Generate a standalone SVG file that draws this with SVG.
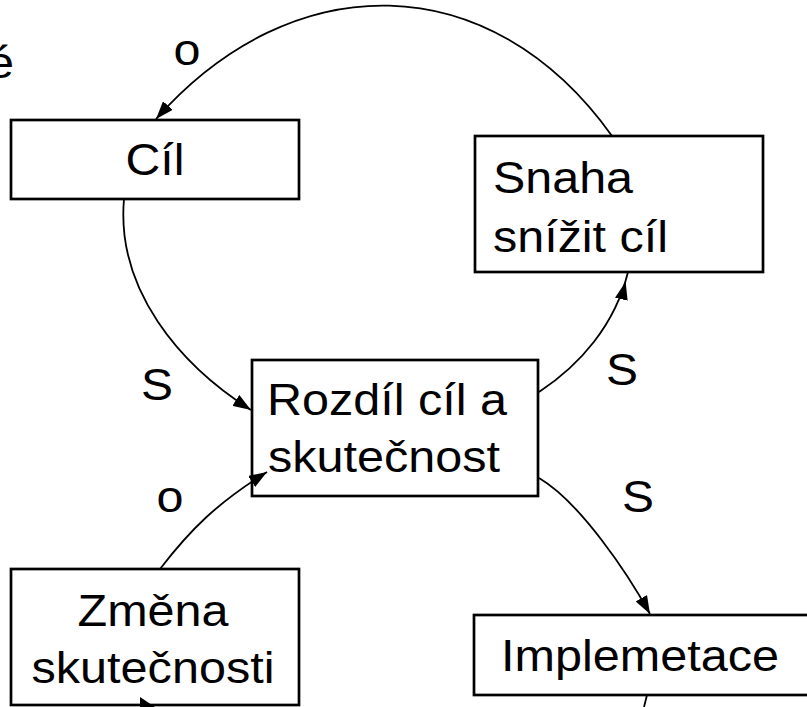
<svg xmlns="http://www.w3.org/2000/svg" width="807" height="707" viewBox="0 0 807 707">
<style>
.box{fill:#fff;stroke:#000;stroke-width:2.7}
.t{font-family:"Liberation Sans",Arial,sans-serif;font-size:44px;fill:#000}
.c{text-anchor:middle}
.con{fill:none;stroke:#000;stroke-width:1.8}
</style>
<defs>
<marker id="ah" viewBox="0 0 18 13" refX="18" refY="6.5" markerWidth="18" markerHeight="13" markerUnits="userSpaceOnUse" orient="auto">
<path d="M0,0 L18,6.5 L0,13 Z" fill="#000"/>
</marker>
<marker id="ahOff" viewBox="0 0 28 13" refX="28" refY="6.5" markerWidth="28" markerHeight="13" markerUnits="userSpaceOnUse" orient="auto">
<path d="M0,0 L18,6.5 L0,13 Z" fill="#000"/>
</marker>
</defs>
<rect width="807" height="707" fill="#fff"/>
<text class="t" x="-13" y="78" textLength="27" lengthAdjust="spacingAndGlyphs">é</text>
<g id="node-cil">
<rect class="box" x="11" y="120" width="288" height="79"/>
<text class="t c" x="155" y="175" textLength="59" lengthAdjust="spacingAndGlyphs">Cíl</text>
</g>
<g id="node-snaha">
<rect class="box" x="475" y="136" width="288" height="136"/>
<text class="t" x="493" y="193" textLength="140" lengthAdjust="spacingAndGlyphs">Snaha</text>
<text class="t" x="493" y="252" textLength="175" lengthAdjust="spacingAndGlyphs">snížit cíl</text>
</g>
<g id="node-rozdil">
<rect class="box" x="252" y="360" width="286" height="136"/>
<text class="t" x="267" y="415" textLength="240" lengthAdjust="spacingAndGlyphs">Rozdíl cíl a</text>
<text class="t" x="268" y="472" textLength="232" lengthAdjust="spacingAndGlyphs">skutečnost</text>
</g>
<g id="node-zmena">
<rect class="box" x="11" y="569" width="288" height="136"/>
<text class="t c" x="153" y="626" textLength="151" lengthAdjust="spacingAndGlyphs">Změna</text>
<text class="t c" x="153" y="683" textLength="243" lengthAdjust="spacingAndGlyphs">skutečnosti</text>
</g>
<g id="node-implemetace">
<rect class="box" x="474" y="615" width="360" height="80"/>
<text class="t c" x="640" y="671" textLength="278" lengthAdjust="spacingAndGlyphs">Implemetace</text>
</g>
<g id="connectors">
<path class="con" d="M612,136 C490,-35 292,-35 156,119" marker-end="url(#ah)"/>
<path class="con" d="M124,199 C116,290 180,365 251,410" marker-end="url(#ah)"/>
<path class="con" d="M160,569 C190,530 217,503 267,472" marker-end="url(#ah)"/>
<path class="con" d="M539,392 C580,365 615,325 628,272" marker-end="url(#ahOff)"/>
<path class="con" d="M539,478 C580,502 628,574 650,614" marker-end="url(#ah)"/>
<path class="con" d="M647,695 L644,707"/>
<polygon points="140,697 155,707 140,707" fill="#000"/>
</g>
<g id="labels">
<text class="t c" x="187" y="65" textLength="27" lengthAdjust="spacingAndGlyphs">o</text>
<text class="t c" x="157" y="400" textLength="32" lengthAdjust="spacingAndGlyphs">S</text>
<text class="t c" x="622" y="385" textLength="32" lengthAdjust="spacingAndGlyphs">S</text>
<text class="t c" x="638" y="512" textLength="32" lengthAdjust="spacingAndGlyphs">S</text>
<text class="t c" x="170" y="512" textLength="27" lengthAdjust="spacingAndGlyphs">o</text>
</g>
</svg>
